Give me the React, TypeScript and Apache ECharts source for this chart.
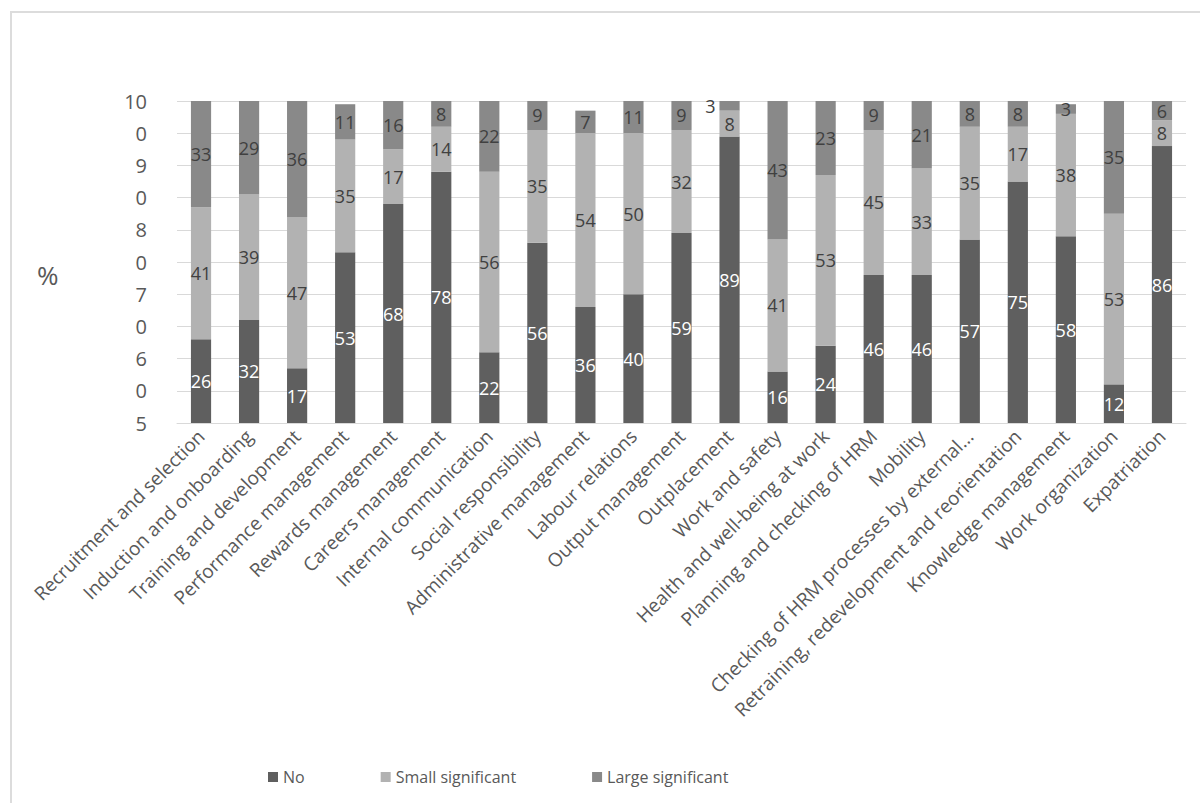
import React, { useEffect, useRef } from "react";
import * as echarts from "echarts";

const categories = [
  "Recruitment and selection",
  "Induction and onboarding",
  "Training and development",
  "Performance management",
  "Rewards management",
  "Careers management",
  "Internal communication",
  "Social responsibility",
  "Administrative management",
  "Labour relations",
  "Output management",
  "Outplacement",
  "Work and safety",
  "Health and well-being at work",
  "Planning and checking of HRM",
  "Mobility",
  "Checking of HRM processes by external...",
  "Retraining, redevelopment and reorientation",
  "Knowledge management",
  "Work organization",
  "Expatriation",
];

const noValues = [26, 32, 17, 53, 68, 78, 22, 56, 36, 40, 59, 89, 16, 24, 46, 46, 57, 75, 58, 12, 86];
const smallValues = [41, 39, 47, 35, 17, 14, 56, 35, 54, 50, 32, 8, 41, 53, 45, 33, 35, 17, 38, 53, 8];
const largeValues = [33, 29, 36, 11, 16, 8, 22, 9, 7, 11, 9, 3, 43, 23, 9, 21, 8, 8, 3, 35, 6];

// y tick labels as shown (value 0..100 step 10)
const yTickLabels = ["5", "0", "6", "0", "7", "0", "8", "0", "9", "0", "10"];

const FONT = "'Open Sans', sans-serif";

export default function App() {
  const ref = useRef<HTMLDivElement>(null);
  useEffect(() => {
    if (!ref.current) return;
    const chart = echarts.init(ref.current, null, { renderer: "svg" });
    const labelBase = {
      show: true,
      position: "inside",
      fontSize: 18,
      fontFamily: FONT,
    };
    chart.setOption({
      animation: false,
      textStyle: { fontFamily: FONT },
      grid: { left: 177, right: 14, top: 101, bottom: 380, containLabel: false },
      legend: {
        left: 263,
        top: 764,
        itemWidth: 10,
        itemHeight: 10,
        itemGap: 76,
        icon: "rect",
        textStyle: { fontSize: 16, color: "#595959", fontFamily: FONT },
        data: ["No", "Small significant", "Large significant"],
      },
      graphic: [
        {
          type: "text",
          left: 37,
          top: 262,
          style: { text: "%", fontSize: 26, fill: "#595959", fontFamily: FONT },
        },
      ],
      xAxis: {
        type: "category",
        data: categories,
        axisLine: { lineStyle: { color: "#d9d9d9", width: 1 } },
        axisTick: { show: false },
        axisLabel: {
          rotate: 45,
          interval: 0,
          fontSize: 19,
          color: "#595959",
          fontFamily: FONT,
          margin: 10,
        },
      },
      yAxis: {
        type: "value",
        min: 0,
        max: 100,
        interval: 10,
        axisLine: { show: false },
        axisTick: { show: false },
        splitLine: { lineStyle: { color: "#d9d9d9", width: 1 } },
        axisLabel: {
          fontSize: 20,
          color: "#595959",
          fontFamily: FONT,
          margin: 30,
          formatter: (v: number) => yTickLabels[Math.round(v / 10)] ?? "",
        },
      },
      series: [
        {
          name: "No",
          type: "bar",
          stack: "total",
          barWidth: "42%",
          data: noValues,
          itemStyle: { color: "#5f5f5f" },
          label: { ...labelBase, color: "#ffffff" },
        },
        {
          name: "Small significant",
          type: "bar",
          stack: "total",
          data: smallValues,
          itemStyle: { color: "#b2b2b2" },
          label: { ...labelBase, color: "#404040" },
        },
        {
          name: "Large significant",
          type: "bar",
          stack: "total",
          data: largeValues.map((v, i) =>
            v < 5 && smallValues[i] < 10 ? { value: v, label: { position: "left", distance: 4 } } : v
          ),
          itemStyle: { color: "#898989" },
          label: { ...labelBase, color: "#404040" },
        },
      ],
    });
    return () => chart.dispose();
  }, []);

  return (
    <div style={{ position: "absolute", left: 0, top: 0, width: 1200, height: 803, overflow: "hidden", background: "#fff" }}>
      <div ref={ref} style={{ position: "absolute", left: 0, top: 0, width: 1200, height: 803 }} />
      <div style={{ position: "absolute", left: 10, top: 11, width: 1190, height: 2, background: "#dcdcdc" }} />
      <div style={{ position: "absolute", left: 10, top: 11, width: 2, height: 792, background: "#dcdcdc" }} />
    </div>
  );
}
